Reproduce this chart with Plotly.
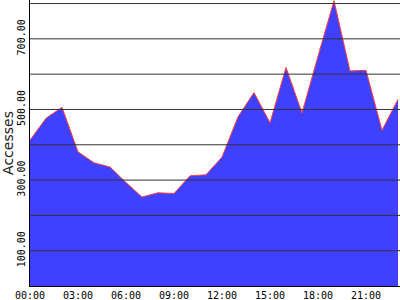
import plotly.graph_objects as go

hours = list(range(24))
accesses = [413, 475, 506, 380, 349, 337, 293, 252, 264, 262, 312, 315,
            365, 479, 548, 462, 619, 490, 651, 808, 609, 611, 441, 529]
tick_hours = [0, 3, 6, 9, 12, 15, 18, 21]
tick_labels = ["00:00", "03:00", "06:00", "09:00", "12:00", "15:00", "18:00", "21:00"]
y_label_vals = [100, 300, 500, 700]
grid_vals = [100, 200, 300, 400, 500, 600, 700, 800]

fig = go.Figure()
fig.add_trace(go.Scatter(
    x=hours, y=accesses, mode="lines", fill="tozeroy",
    fillcolor="#4040ff", line=dict(color="#ff3c3c", width=1),
    hoverinfo="skip", showlegend=False,
))

for g in grid_vals:
    fig.add_shape(type="line", xref="paper", x0=0, x1=1, yref="y", y0=g, y1=g,
                  line=dict(color="#333333", width=1), layer="above")

mono = dict(family="DejaVu Sans Mono", size=10, color="#000000")
fig.update_layout(
    width=400, height=300,
    margin=dict(l=30, r=0, t=0, b=14),
    paper_bgcolor="white", plot_bgcolor="white",
    xaxis=dict(range=[0, 23.125], tickvals=tick_hours, ticktext=tick_labels,
               showgrid=False, zeroline=False, showline=True, linecolor="black",
               linewidth=1, ticks="", tickfont=mono),
    yaxis=dict(range=[0, 810], tickvals=y_label_vals,
               ticktext=[f"{v:.2f}" for v in y_label_vals],
               tickangle=-90, showgrid=False, zeroline=False, showline=True,
               linecolor="black", linewidth=1, ticks="", tickfont=mono,
               title=dict(text="Accesses", font=dict(family="DejaVu Sans", size=14, color="#222222"),
                          standoff=2)),
)
fig.write_html("out.html")
